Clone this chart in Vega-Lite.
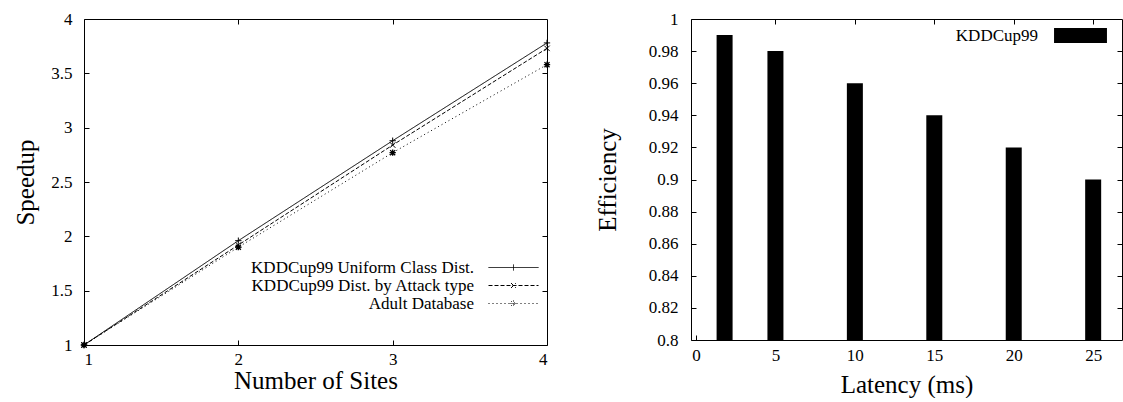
{
  "$schema": "https://vega.github.io/schema/vega-lite/v6.json",
  "padding": {"left": 13, "top": 9, "right": 0, "bottom": 0},
  "spacing": 40,
  "config": {
    "font": "Liberation Serif",
    "view": {"stroke": "black", "strokeWidth": 1},
    "axis": {
      "labelFont": "Liberation Serif", "labelFontSize": 17, "labelColor": "black",
      "titleFont": "Liberation Serif", "titleFontSize": 25, "titleFontWeight": "normal", "titleColor": "black",
      "grid": false, "domain": false, "tickColor": "black", "tickSize": -5, "labelPadding": 17
    },
    "legend": {"labelFont": "Liberation Serif", "labelColor": "black"}
  },
  "hconcat": [
    {
      "width": 463,
      "height": 326,
      "data": {"values": [
        {"sites": 1, "series": "KDDCup99 Uniform Class Dist.", "speedup": 1},
        {"sites": 2, "series": "KDDCup99 Uniform Class Dist.", "speedup": 1.96},
        {"sites": 3, "series": "KDDCup99 Uniform Class Dist.", "speedup": 2.88},
        {"sites": 4, "series": "KDDCup99 Uniform Class Dist.", "speedup": 3.78},
        {"sites": 1, "series": "KDDCup99 Dist. by Attack type", "speedup": 1},
        {"sites": 2, "series": "KDDCup99 Dist. by Attack type", "speedup": 1.92},
        {"sites": 3, "series": "KDDCup99 Dist. by Attack type", "speedup": 2.84},
        {"sites": 4, "series": "KDDCup99 Dist. by Attack type", "speedup": 3.73},
        {"sites": 1, "series": "Adult Database", "speedup": 1},
        {"sites": 2, "series": "Adult Database", "speedup": 1.90},
        {"sites": 3, "series": "Adult Database", "speedup": 2.77},
        {"sites": 4, "series": "Adult Database", "speedup": 3.58}
      ]},
      "layer": [
        {
          "mark": {"type": "line", "color": "black", "strokeWidth": 1},
          "encoding": {
            "x": {"field": "sites", "type": "quantitative", "scale": {"domain": [1, 4], "nice": false},
                  "axis": {"values": [1, 2, 3, 4], "title": "Number of Sites", "titlePadding": 1, "labelPadding": 11, "labelFont": "Liberation Serif", "labelFontSize": 17}},
            "y": {"field": "speedup", "type": "quantitative", "scale": {"domain": [1, 4], "nice": false, "zero": false},
                  "axis": {"values": [1, 1.5, 2, 2.5, 3, 3.5, 4], "format": "~g", "title": "Speedup", "titlePadding": 12, "labelPadding": 17, "labelFont": "Liberation Serif", "labelFontSize": 17}},
            "strokeDash": {
              "field": "series", "type": "nominal", "sort": null,
              "scale": {"domain": ["KDDCup99 Uniform Class Dist.", "KDDCup99 Dist. by Attack type", "Adult Database"],
                        "range": [[1, 0], [4, 2], [1, 3]]},
              "legend": {
                "orient": "none", "legendX": 421, "legendY": 240, "title": null, "padding": 0,
                "symbolType": "M-5,0L5,0", "symbolSize": 100, "symbolStrokeWidth": 1, "symbolStrokeColor": "black", "symbolFillColor": "transparent",
                "rowPadding": 0,
                "labelAlign": "right", "labelOffset": -48, "labelFontSize": 17, "labelLimit": 400,
                "encode": {"symbols": {"update": {"shape": {"signal": "datum.value == 'Adult Database' ? 'M-5,0L5,0M-0.6,0L0.6,0M0,-0.6L0,0.6M-0.5,-0.5L0.5,0.5M-0.5,0.5L0.5,-0.5' : (datum.value == 'KDDCup99 Dist. by Attack type' ? 'M-5,0L5,0M-0.5,-0.5L0.5,0.5M-0.5,0.5L0.5,-0.5' : 'M-5,0L5,0M0,-0.6L0,0.6')"}}}}
              }
            }
          }
        },
        {
          "transform": [{"filter": "datum.series == 'KDDCup99 Uniform Class Dist.'"}],
          "mark": {"type": "point", "shape": "M-1,0L1,0M0,-1L0,1", "filled": false, "stroke": "black", "strokeWidth": 1, "size": 40, "opacity": 1},
          "encoding": {
            "x": {"field": "sites", "type": "quantitative", "axis": null},
            "y": {"field": "speedup", "type": "quantitative", "axis": null}
          }
        },
        {
          "transform": [{"filter": "datum.series == 'KDDCup99 Dist. by Attack type'"}],
          "mark": {"type": "point", "shape": "M-1,-1L1,1M-1,1L1,-1", "filled": false, "stroke": "black", "strokeWidth": 1, "size": 30, "opacity": 1},
          "encoding": {
            "x": {"field": "sites", "type": "quantitative", "axis": null},
            "y": {"field": "speedup", "type": "quantitative", "axis": null}
          }
        },
        {
          "transform": [{"filter": "datum.series == 'Adult Database'"}],
          "mark": {"type": "point", "shape": "M-1,0L1,0M0,-1L0,1M-0.8,-0.8L0.8,0.8M-0.8,0.8L0.8,-0.8", "filled": false, "stroke": "black", "strokeWidth": 1.3, "size": 40, "opacity": 1},
          "encoding": {
            "x": {"field": "sites", "type": "quantitative", "axis": null},
            "y": {"field": "speedup", "type": "quantitative", "axis": null}
          }
        },
        {
          "mark": {"type": "point", "opacity": 0},
          "encoding": {
            "x": {"field": "sites", "type": "quantitative", "axis": {"orient": "top", "labels": false, "title": null, "values": [2, 3]}},
            "y": {"field": "speedup", "type": "quantitative", "axis": {"orient": "right", "labels": false, "title": null, "values": [1.5, 2, 2.5, 3, 3.5]}}
          }
        }
      ],
      "resolve": {"axis": {"x": "independent", "y": "independent"}}
    },
    {
      "width": 431,
      "height": 321,
      "data": {"values": [
        {"latency": 1.8, "efficiency": 0.99, "series": "KDDCup99"},
        {"latency": 5, "efficiency": 0.98, "series": "KDDCup99"},
        {"latency": 10, "efficiency": 0.96, "series": "KDDCup99"},
        {"latency": 15, "efficiency": 0.94, "series": "KDDCup99"},
        {"latency": 20, "efficiency": 0.92, "series": "KDDCup99"},
        {"latency": 25, "efficiency": 0.90, "series": "KDDCup99"}
      ]},
      "layer": [
        {
          "mark": {"type": "bar", "size": 16},
          "encoding": {
            "x": {"field": "latency", "type": "quantitative", "scale": {"domain": [0, 26.5], "nice": false},
                  "axis": {"values": [0, 5, 10, 15, 20, 25], "title": "Latency (ms)", "titlePadding": 9, "labelPadding": 12, "labelFont": "Liberation Serif", "labelFontSize": 17}},
            "y": {"field": "efficiency", "type": "quantitative", "scale": {"domain": [0.8, 1], "nice": false, "zero": false},
                  "axis": {"values": [0.8, 0.82, 0.84, 0.86, 0.88, 0.9, 0.92, 0.94, 0.96, 0.98, 1], "format": "~g", "title": "Efficiency", "titlePadding": 28, "labelPadding": 18, "labelFont": "Liberation Serif", "labelFontSize": 17}},
            "y2": {"datum": 0.8},
            "fill": {"field": "series", "type": "nominal", "scale": {"range": ["black"]},
              "legend": {
                "orient": "none", "legendX": 988, "legendY": 8, "title": null, "padding": 0,
                "symbolType": "M-5,-1.4L5,-1.4L5,1.4L-5,1.4Z", "symbolSize": 112, "symbolStrokeWidth": 0,
                "labelAlign": "right", "labelOffset": -51, "labelFontSize": 17
              }
            }
          }
        },
        {
          "mark": {"type": "point", "opacity": 0},
          "encoding": {
            "x": {"field": "latency", "type": "quantitative", "axis": {"orient": "top", "labels": false, "title": null, "values": [5, 10, 15, 20, 25]}},
            "y": {"field": "efficiency", "type": "quantitative", "axis": {"orient": "right", "labels": false, "title": null, "values": [0.82, 0.84, 0.86, 0.88, 0.9, 0.92, 0.94, 0.96, 0.98]}}
          }
        }
      ],
      "resolve": {"axis": {"x": "independent", "y": "independent"}}
    }
  ]
}
